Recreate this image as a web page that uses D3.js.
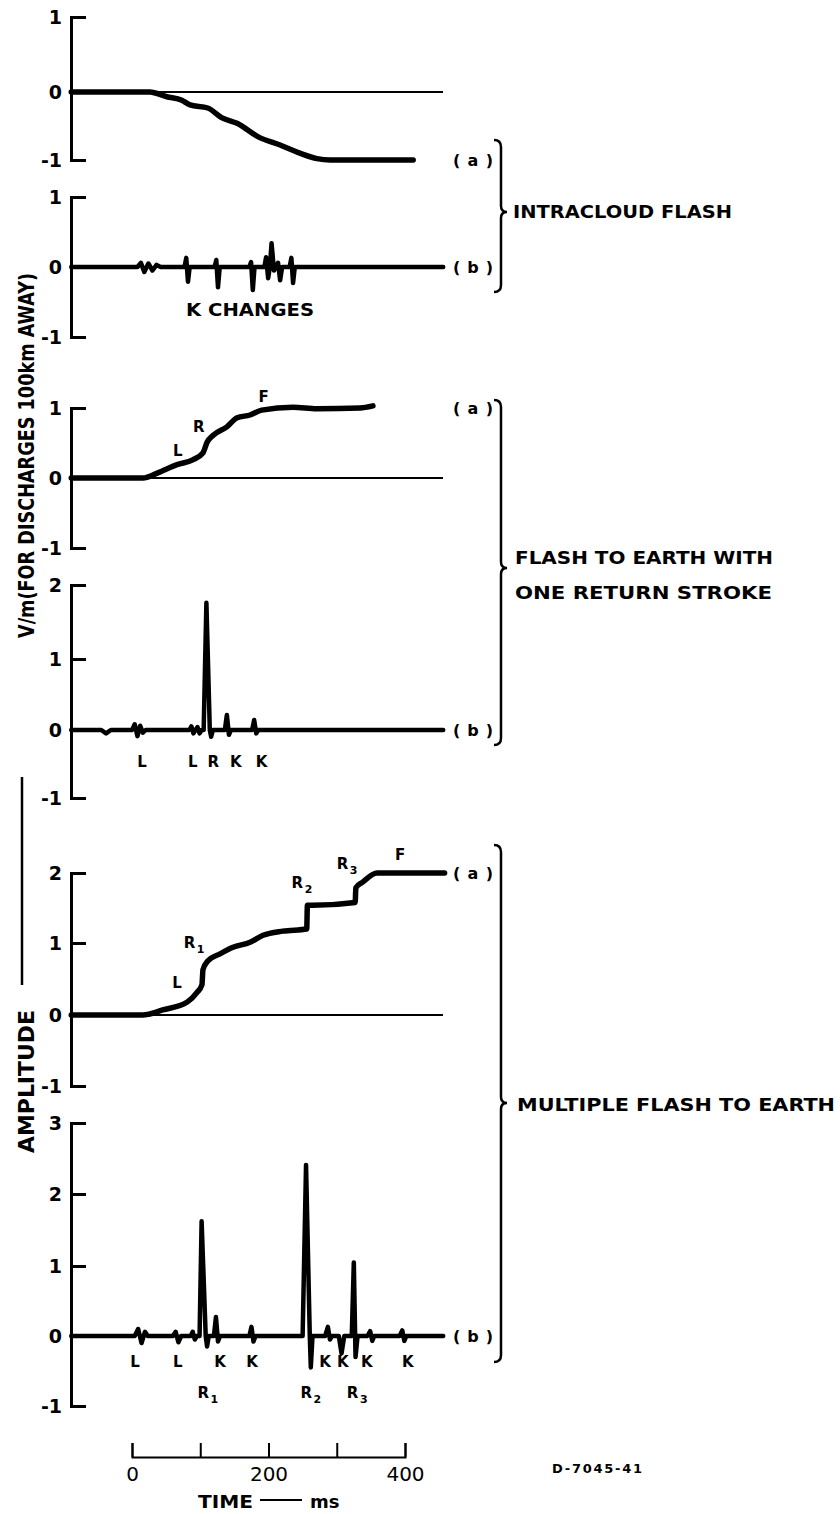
<!DOCTYPE html>
<html><head><meta charset="utf-8">
<script src="https://cdn.jsdelivr.net/npm/d3@7"></script>
<style>
html,body{margin:0;padding:0;background:#fff;}
svg{display:block;}
text{font-family:"DejaVu Sans",sans-serif;font-weight:bold;fill:#000;}
</style></head><body>
<svg id="chart" width="840" height="1514"></svg>
<script>
// ---- time axis (ms) ----
const timeTicks = [0, 100, 200, 300, 400];
const timeLabels = [0, 200, 400];

// ---- intracloud flash ----
// (a) slow field change
const intraSlow = [[-89,0],[26,0],[51,-0.07],[73,-0.12],[85,-0.19],[111,-0.235],[132,-0.38],[154,-0.46],[185,-0.66],[217,-0.78],[246,-0.9],[271,-0.98],[290,-1],[412,-1]];
// (b) fast field change with K changes
const intraFast = [[-89,0],[8,0],[13,0.06],[18,-0.07],[24,0.05],[30,-0.05],[36,0.03],[42,0],
  [77,0],[79.5,0.13],[82,-0.21],[84.5,0],
  [121,0],[123.5,0.10],[126,-0.29],[128.5,0],
  [172,0],[174.5,0.07],[177,-0.33],[179.5,0],
  [194,0],[196.5,0.14],[199.5,-0.16],[202,0],
  [204.5,0.34],[208,-0.05],[211,0],
  [214,0.06],[217,-0.19],[220,0],
  [231,0],[233.5,0.13],[236,-0.23],[238.5,0],
  [456,0]];

// ---- flash to earth, one return stroke ----
const oneSlow = [[-89,0],[16,0],[37,0.07],[66,0.19],[89,0.26],[104,0.36],[110,0.51],[119,0.61],[139,0.73],[154,0.86],[173,0.9],[190,0.97],[236,1.01],[271,0.99],[334,1.0],[353,1.03]];
const oneFast = [[-89,0],[-45,0],[-38,-0.05],[-31,0],
  [0,0],[4,0.08],[8,-0.09],[12,0.06],[16,-0.04],[20,0],
  [84,0],[87,0.05],[90,-0.05],[93,0],
  [96,0.04],[99,-0.05],[102,0],
  [105,0],[109,1.76],[114,0],[116,-0.1],[118.5,0],
  [136,0],[139,0.21],[142,-0.07],[145,0],
  [176,0],[179,0.14],[182,-0.05],[185,0],
  [456,0]];

// ---- multiple flash to earth ----
const multiSlow = [[-89,0],[16,0],[45,0.07],[81,0.18],[95,0.31],[102.5,0.42],[104,0.63],[111,0.75],[129,0.85],[148,0.94],[173,1.01],[192,1.11],[221,1.17],[256,1.2],[257,1.54],[265,1.54],[327,1.58],[328,1.79],[338,1.87],[359,2.0],[458,2.0]];
const multiFast = [[-89,0],[4,0],[9,0.1],[14,-0.1],[19,0.06],[23,0],
  [60,0],[64,0.06],[68,-0.09],[72,0],
  [86,0],[89,0.06],[92,-0.05],[95,0],
  [99,0],[102,1.62],[108,0],[110,-0.15],[112.5,0],
  [120,0],[123,0.27],[126,-0.08],[129,0],
  [172,0],[175,0.13],[178,-0.08],[181,0],
  [250,0],[255,2.41],[260.5,0],[262,-0.45],[264.5,0],
  [283,0],[287,0.13],[290,-0.05],[293,0],
  [303,0],[307,-0.25],[311,0],
  [322,0],[325,1.05],[327.5,-0.3],[330.5,0],
  [345,0],[349,0.07],[352,-0.07],[355,0],
  [392,0],[396,0.08],[399,-0.07],[402,0],
  [456,0]];

// ---- event letters: [text, subscript, time, amplitude] ----
const intraFastNotes = [["K CHANGES","",173,-0.61]];
const oneSlowNotes = [["L","",67,0.39],["R","",98,0.73],["F","",193,1.17]];
const oneFastNotes = [["L","",14.6,-0.47],["L","",89,-0.47],["R","",119,-0.47],["K","",152,-0.47],["K","",190,-0.47]];
const multiSlowNotes = [["L","",66,0.45],["R","1",91,1.0],["R","2",249,1.86],["R","3",315,2.14],["F","",393,2.26]];
const multiFastNotes = [["L","",4.4,-0.37],["L","",67,-0.37],["K","",129,-0.37],["K","",176,-0.37],["K","",283,-0.37],["K","",309,-0.37],["K","",344,-0.37],["K","",404,-0.37],
  ["R","1",111,-0.81],["R","2",262,-0.81],["R","3",330,-0.81]];

// ---- panel amplitude ticks (V/m) ----
const ticksIntraSlow = [-1,0,1];
const ticksIntraFast = [-1,0,1];
const ticksOneSlow = [-1,0,1];
const ticksOneFast = [-1,0,1,2];
const ticksMultiSlow = [-1,0,1,2];
const ticksMultiFast = [-1,0,1,2,3];

// ---- group captions ----
const groupCaptions = [["INTRACLOUD FLASH"],["FLASH TO EARTH WITH","ONE RETURN STROKE"],["MULTIPLE FLASH TO EARTH"]];

const svg = d3.select("#chart");
const AXIS_X = 71, LINE_END = 443;
const x = d3.scaleLinear().domain([0, 400]).range([132, 405]);

// pixel rows for each tick of each panel (hand-drawn spacing)
const panels = [
  {ticks: ticksIntraSlow, rows: [160, 92, 17], data: intraSlow, slow: true, tag: "( a )", tagV: -1, notes: []},
  {ticks: ticksIntraFast, rows: [337, 267, 197], data: intraFast, slow: false, tag: "( b )", tagV: 0, notes: intraFastNotes, noteSize: 17},
  {ticks: ticksOneSlow, rows: [548, 478, 408], data: oneSlow, slow: true, tag: "( a )", tagV: 1, notes: oneSlowNotes},
  {ticks: ticksOneFast, rows: [798, 730, 659, 585], data: oneFast, slow: false, tag: "( b )", tagV: 0, notes: oneFastNotes},
  {ticks: ticksMultiSlow, rows: [1086, 1015, 943, 873], data: multiSlow, slow: true, tag: "( a )", tagV: 2, notes: multiSlowNotes},
  {ticks: ticksMultiFast, rows: [1406, 1336, 1266, 1194, 1123], data: multiFast, slow: false, tag: "( b )", tagV: 0, notes: multiFastNotes}
];

panels.forEach(p => {
  const y = d3.scaleLinear().domain(p.ticks).range(p.rows);
  const g = svg.append("g");

  // bracket-style amplitude axis
  const ax = g.append("g").attr("transform", `translate(${AXIS_X},0)`)
    .call(d3.axisLeft(y).tickValues(p.ticks).tickSize(-15).tickPadding(9).tickFormat(d => String(d)));
  ax.attr("font-family", null).attr("font-size", null);
  ax.select(".domain").attr("stroke-width", 3).attr("stroke-linejoin", "miter");
  ax.selectAll(".tick line").attr("stroke-width", 3);
  ax.selectAll(".tick text").style("font-size", "19px").attr("dy", "0.36em");

  // zero reference for the slow records
  if (p.slow) {
    g.append("line").attr("x1", AXIS_X).attr("x2", LINE_END)
      .attr("y1", y(0)).attr("y2", y(0))
      .attr("stroke", "#000").attr("stroke-width", 2);
  }

  const line = d3.line().x(d => x(d[0])).y(d => y(d[1]))
    .curve(p.slow ? d3.curveMonotoneX : d3.curveLinear);
  g.append("path").datum(p.data).attr("d", line)
    .attr("fill", "none").attr("stroke", "#000")
    .attr("stroke-width", p.slow ? 5.5 : 4.5)
    .attr("stroke-linejoin", "round").attr("stroke-linecap", "round");

  // record tag
  g.append("text").attr("x", 453).attr("y", y(p.tagV)).attr("dy", "0.36em")
    .attr("textLength", 40).attr("lengthAdjust", "spacing")
    .style("font-size", "16px").text(p.tag);

  // event letters
  p.notes.forEach(n => {
    const t = g.append("text").attr("x", x(n[2])).attr("y", y(n[3])).attr("dy", "0.36em")
      .attr("text-anchor", "middle").style("font-size", (p.noteSize || 15) + "px");
    if (n[0].length > 3) t.attr("textLength", 128).attr("lengthAdjust", "spacingAndGlyphs");
    t.append("tspan").text(n[0]);
    if (n[1]) t.append("tspan").attr("dy", "0.45em").attr("dx", "1.5").style("font-size", "11px").text(n[1]);
  });
});

// curly braces grouping (a) and (b) records
const braces = [[140, 212, 292], [400, 568, 745], [845, 1103, 1362]];
const BX = 501;
braces.forEach(([top, mid, bot]) => {
  const d = `M${BX-7},${top} Q${BX},${top} ${BX},${top+7} L${BX},${mid-6} Q${BX},${mid} ${BX+6},${mid} Q${BX},${mid} ${BX},${mid+6} L${BX},${bot-7} Q${BX},${bot} ${BX-7},${bot}`;
  svg.append("path").attr("d", d).attr("fill", "none").attr("stroke", "#000").attr("stroke-width", 2.5);
});

// group captions
const captionPos = [[513, [212], [219]], [515, [558, 593], [258, 257]], [517, [1105], [318]]];
groupCaptions.forEach((lines, i) => {
  const [cx, ys, lens] = captionPos[i];
  lines.forEach((s, j) => {
    svg.append("text").attr("x", cx).attr("y", ys[j]).attr("dy", "0.36em")
      .attr("textLength", lens[j]).attr("lengthAdjust", "spacingAndGlyphs")
      .style("font-size", "18px").text(s);
  });
});

// time axis
const tx = svg.append("g").attr("transform", "translate(0,1457)")
  .call(d3.axisBottom(x).tickValues(timeTicks).tickSize(-14).tickPadding(10)
    .tickFormat(d => timeLabels.includes(d) ? d : ""));
tx.attr("font-family", null).attr("font-size", null);
tx.select(".domain").attr("stroke-width", 2);
tx.selectAll(".tick line").attr("stroke-width", 2);
tx.selectAll(".tick text").style("font-size", "20px").style("font-weight", "normal");

const timeTitle = svg.append("g");
timeTitle.append("text").attr("x", 198).attr("y", 1502).attr("dy", "0.36em")
  .attr("textLength", 55).attr("lengthAdjust", "spacingAndGlyphs").style("font-size", "18px").text("TIME");
timeTitle.append("line").attr("x1", 260).attr("x2", 302).attr("y1", 1500).attr("y2", 1500)
  .attr("stroke", "#000").attr("stroke-width", 2);
timeTitle.append("text").attr("x", 310).attr("y", 1502).attr("dy", "0.36em")
  .style("font-size", "18px").text("ms");

// amplitude title (vertical)
svg.append("text").attr("transform", "translate(26,638) rotate(-90)").attr("dy", "0.36em")
  .attr("textLength", 365).attr("lengthAdjust", "spacingAndGlyphs")
  .style("font-size", "22px").text("V/m(FOR DISCHARGES 100km AWAY)");
svg.append("line").attr("x1", 22).attr("x2", 22).attr("y1", 777).attr("y2", 985)
  .attr("stroke", "#000").attr("stroke-width", 2.5);
svg.append("text").attr("transform", "translate(26,1153) rotate(-90)").attr("dy", "0.36em")
  .attr("textLength", 143).attr("lengthAdjust", "spacingAndGlyphs")
  .style("font-size", "22px").text("AMPLITUDE");

// drawing number
svg.append("text").attr("x", 552).attr("y", 1468).attr("dy", "0.36em")
  .attr("textLength", 90).attr("lengthAdjust", "spacing")
  .style("font-size", "13px").text("D-7045-41");
</script>
</body></html>
